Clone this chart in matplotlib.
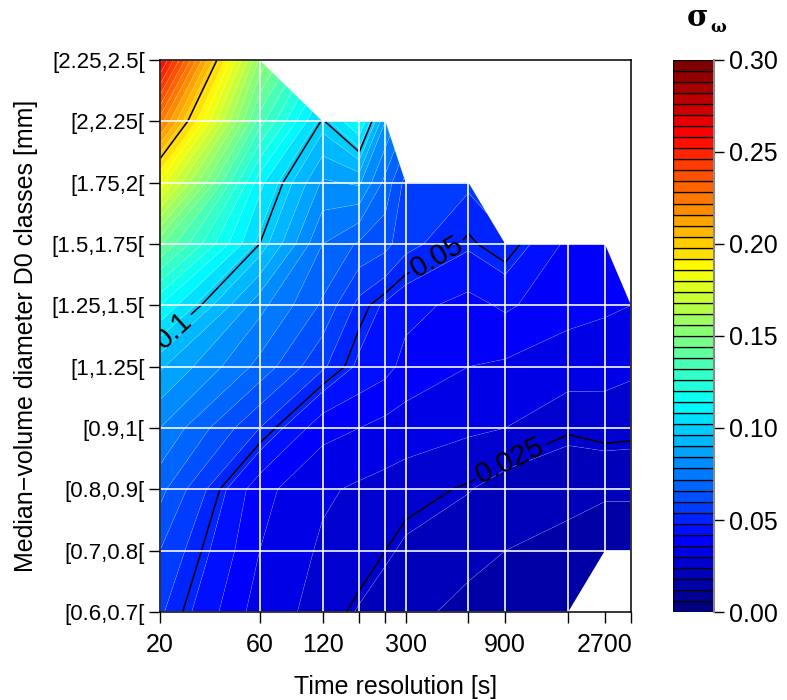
import numpy as np
import matplotlib
matplotlib.use("Agg")
import matplotlib.pyplot as plt
from matplotlib.colors import LinearSegmentedColormap

plt.rcParams['font.family'] = ['Liberation Sans', 'DejaVu Sans']

# ---- data ----
time_res = [20, 60, 120, 180, 240, 300, 600, 900, 1800, 2700, 3600]
time_labels = ["20", "60", "120", "", "", "300", "", "900", "", "2700", ""]
d0_classes = ["[0.6,0.7[", "[0.7,0.8[", "[0.8,0.9[", "[0.9,1[", "[1,1.25[",
              "[1.25,1.5[", "[1.5,1.75[", "[1.75,2[", "[2,2.25[", "[2.25,2.5["]
nan = np.nan
# sigma_omega, one list per D0 class (rows), columns follow time_res
sig_r1 = [0.055, 0.033, 0.028, 0.0234, 0.021, 0.020, 0.016, 0.014, 0.012, nan, nan]
sig_r2 = [0.060, 0.036, 0.029, 0.028, 0.025, 0.023, 0.020, 0.018, 0.016, 0.014, 0.014]
sig_r3 = [0.068, 0.038, 0.031, 0.029, 0.028, 0.027, 0.0243, 0.0212, 0.020, 0.019, 0.019]
sig_r4 = [0.078, 0.054, 0.038, 0.036, 0.034, 0.033, 0.031, 0.030, 0.0256, 0.027, 0.0266]
sig_r5 = [0.091, 0.070, 0.055, 0.0467, 0.044, 0.040, 0.036, 0.035, 0.033, 0.032, 0.031]
sig_r6 = [0.114, 0.080, 0.065, 0.052, 0.047, 0.044, 0.040, 0.043, 0.038, 0.037, 0.036]
sig_r7 = [0.145, 0.100, 0.072, 0.065, 0.062, 0.056, 0.049, 0.053, 0.0405, 0.040, nan]
sig_r8 = [0.184, 0.110, 0.083, 0.085, 0.070, 0.058, 0.055, nan, nan, nan, nan]
sig_r9 = [0.225, 0.135, 0.099, 0.115, 0.084, nan, nan, nan, nan, nan, nan]
sig_r10 = [0.260, 0.155, nan, nan, nan, nan, nan, nan, nan, nan, nan]
contour_levels = [0.025, 0.05, 0.1, 0.2]
cbar_ticks = [0.00, 0.05, 0.10, 0.15, 0.20, 0.25, 0.30]

Z = np.ma.masked_invalid(np.array([sig_r1, sig_r2, sig_r3, sig_r4, sig_r5,
                                   sig_r6, sig_r7, sig_r8, sig_r9, sig_r10]))
x = np.log10(time_res)
y = np.arange(1, len(d0_classes) + 1)
X, Y = np.meshgrid(x, y)

levels = np.linspace(0, 0.3, 51)
jet = LinearSegmentedColormap.from_list(
    "jetR", ["#00007F", "#0000FF", "#007FFF", "#00FFFF", "#7FFF7F",
             "#FFFF00", "#FF7F00", "#FF0000", "#7F0000"])
cols = [jet(i / 49) for i in range(50)]

fig = plt.figure(figsize=(7.87, 7.0), dpi=100)
ax = fig.add_axes([160/787, 88/700, 471/787, 552/700])
cax = fig.add_axes([673/787, 88/700, 41/787, 552/700])

ax.contourf(X, Y, Z, levels=levels, colors=cols, corner_mask=True, antialiased=True)
ax.contour(X, Y, Z, levels=levels[1:-1], colors='white', linewidths=0.4,
           alpha=0.25, corner_mask=True)
cs = ax.contour(X, Y, Z, levels=contour_levels, colors='black', linewidths=1.1,
                corner_mask=True)
lab_pos = [(1.373, 5.57), (2.64, 6.71), (2.976, 3.48)]
ax.clabel(cs, levels=[0.1, 0.05, 0.025], manual=lab_pos, fontsize=21,
          inline=True, inline_spacing=3, fmt=lambda v: f"{v:g}")

for xv in x:
    ax.axvline(xv, color='white', lw=1.3, alpha=0.9)
for yv in y:
    ax.axhline(yv, color='white', lw=1.3, alpha=0.9)

ax.set_xlim(x[0], x[-1])
ax.set_ylim(y[0], y[-1])
ax.set_xticks(x)
ax.set_xticklabels(time_labels, fontsize=18)
ax.set_yticks(y)
ax.set_yticklabels(d0_classes, fontsize=16)
ax.tick_params(axis='x', length=8, width=1, pad=7)
ax.tick_params(axis='y', length=8, width=1, pad=3)
for s in ax.spines.values():
    s.set_linewidth(1.1)
ax.set_xlabel("Time resolution [s]", fontsize=18, labelpad=13)
ax.set_ylabel("Median\u2212volume diameter D0 classes [mm]", fontsize=18, labelpad=10)

# colour key
cax.bar(0.5, np.diff(levels), bottom=levels[:-1], width=1.0, color=cols,
        edgecolor='black', linewidth=0.9, align='center')
cax.set_xlim(0, 1)
cax.set_ylim(0, 0.3)
cax.set_xticks([])
cax.yaxis.tick_right()
cax.set_yticks(cbar_ticks)
cax.set_yticklabels([f"{t:.2f}" for t in cbar_ticks], fontsize=18)
cax.tick_params(axis='y', length=7, width=1, pad=4)
for k in ['top', 'left', 'bottom']:
    cax.spines[k].set_visible(False)
cax.spines['right'].set_color('#888888')
cax.spines['right'].set_linewidth(1.5)
fig.text(698/787, 1 - 18/700, "\u03c3", fontsize=21, ha='center', va='center',
         family=['DejaVu Serif'], fontweight='bold')
fig.text(718/787, 1 - 27/700, "\u03c9", fontsize=12, ha='center', va='center',
         family=['DejaVu Serif'], fontweight='bold')

fig.savefig("out.png", dpi=100)
